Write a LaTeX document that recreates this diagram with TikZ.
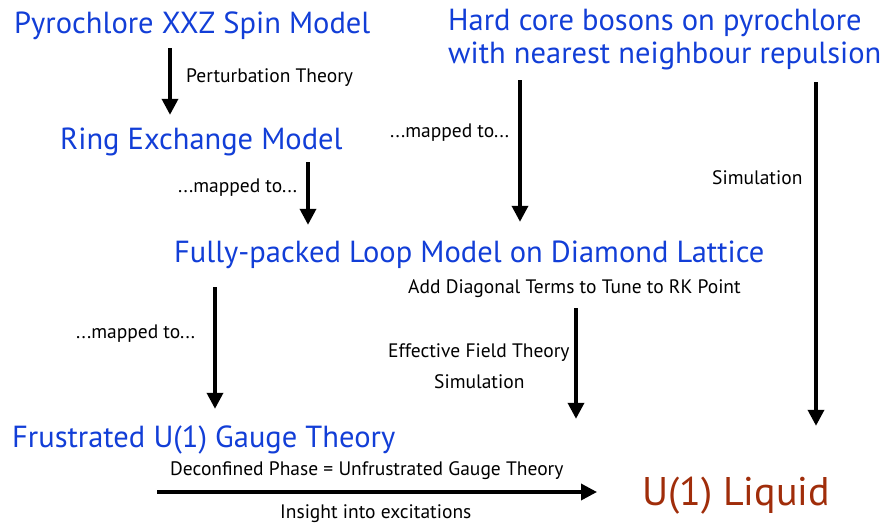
\documentclass[tikz,border=0pt]{standalone}
\usepackage{fontspec}
\setmainfont{PT Sans}
\usetikzlibrary{arrows.meta, positioning, calc}
\definecolor{modelc}{RGB}{18,62,215}
\definecolor{liquidc}{RGB}{160,45,10}

\begin{document}
\begin{tikzpicture}[x=1pt,y=-1pt,
  model/.style={text=modelc, font=\fontsize{30.5}{36}\selectfont, inner sep=0pt, anchor=base west, text height=22pt, text depth=7pt},
  note/.style={text=black, font=\fontsize{19.5}{23}\selectfont, inner sep=0pt, anchor=base west},
  flow/.style={-{Triangle[length=16pt,width=16pt]}, line width=3.5pt},
]
\useasboundingbox (0,0) rectangle (884,523);
% ---------- models ----------
\node[model] (pyro)  at (14,33)  {Pyrochlore XXZ Spin Model};
\node[model] (hard)  at (448,30) {Hard core bosons on pyrochlore};
\node[model] (hard2) at (448,63) {with nearest neighbour repulsion};
\node[model] (ring)  at (60,149) {Ring Exchange Model};
\node[model] (loop)  at (174,262) {Fully-packed Loop Model on Diamond Lattice};
\node[model] (gauge) at (12,447) {Frustrated U(1) Gauge Theory};
\node[model, text=liquidc, font=\fontsize{40}{48}\selectfont, text height=30pt, text depth=9pt] (liquid) at (642,505) {U(1) Liquid};
% ---------- labels ----------
\node[note] (pert)    at (186,82)  {Perturbation Theory};
\node[note] (map1)    at (178,192) {...mapped to...};
\node[note] (map2)    at (390,137) {...mapped to...};
\node[note] (sim1)    at (712,184) {Simulation};
\node[note] (diag)    at (408,293) {Add Diagonal Terms to Tune to RK Point};
\node[note] (map3)    at (76,338)  {...mapped to...};
\node[note] (eft)     at (388,357) {Effective Field Theory};
\node[note] (sim2)    at (434,388) {Simulation};
\node[note] (decon)   at (170,475) {Deconfined Phase = Unfrustrated Gauge Theory};
\node[note] (insight) at (280,518) {Insight into excitations};
% ---------- arrows ----------
\coordinate (a1) at (170,0);
\coordinate (a2) at (308,0);
\coordinate (a3) at (520,0);
\coordinate (a4) at (816,0);
\coordinate (a5) at (215,0);
\coordinate (a6) at (576,0);
\coordinate (hs) at (157,492);
\draw[flow, shorten <=8pt,  shorten >=12pt] (pyro.south -| a1) -- (ring.north -| a1);
\draw[flow, shorten <=6pt,  shorten >=15pt] (ring.south -| a2) -- (loop.north -| a2);
\draw[flow, shorten <=10pt, shorten >=18pt] (hard2.south -| a3) -- (loop.north -| a3);
\draw[flow, shorten <=12pt, shorten >=49pt] (hard2.south -| a4) -- (liquid.north -| a4);
\draw[flow, shorten <=18pt, shorten >=16pt] (loop.south -| a5) -- (gauge.north -| a5);
\draw[flow, shorten <=39pt, shorten >=56pt] (loop.south -| a6) -- (liquid.north -| a6);
\draw[flow, shorten >=45pt] (hs) -- (hs -| liquid.west);
\end{tikzpicture}
\end{document}
